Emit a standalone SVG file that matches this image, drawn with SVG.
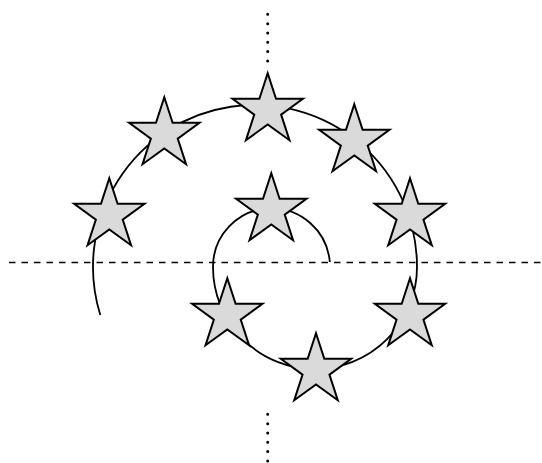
<svg xmlns="http://www.w3.org/2000/svg" xmlns:xlink="http://www.w3.org/1999/xlink" width="542" height="463" viewBox="0 0 542 463">
<style>
.axis-dash{fill:none;stroke:#000;stroke-width:1.6;stroke-dasharray:6.5 6}
.axis-dot{fill:none;stroke:#000;stroke-width:3;stroke-linecap:round;stroke-dasharray:0 9.33}
.spiral{fill:none;stroke:#000;stroke-width:1.8}
.star{fill:#dadada;stroke:#000;stroke-width:2;stroke-linejoin:miter}
</style>
<defs>
<polygon id="star" class="star" points="0,-37 8.31,-11.43 35.19,-11.43 13.44,4.37 21.75,29.93 0,14.13 -21.75,29.93 -13.44,4.37 -35.19,-11.43 -8.31,-11.43"/>
</defs>
<g id="axes">
<line class="axis-dash" x1="9" y1="262.5" x2="542" y2="262.5"/>
<line class="axis-dot" x1="267.7" y1="14.3" x2="267.7" y2="62"/>
<line class="axis-dot" x1="267.7" y1="414.3" x2="267.7" y2="463"/>
</g>
<g id="connectors">
<path class="spiral" d="M 100.3 315 A 162 162 0 1 1 417 267 A 102 102 0 0 1 213 267 A 58.5 58.5 0 0 1 329.8 262"/>
</g>
<g id="star1"><use xlink:href="#star" transform="translate(109.3,215.3)"/></g>
<g id="star2"><use xlink:href="#star" transform="translate(164.3,134.3)"/></g>
<g id="star3"><use xlink:href="#star" transform="translate(267.7,110.3)"/></g>
<g id="star4"><use xlink:href="#star" transform="translate(354.3,141.3)"/></g>
<g id="star5"><use xlink:href="#star" transform="translate(410,215.3)"/></g>
<g id="star6"><use xlink:href="#star" transform="translate(410,315.3)"/></g>
<g id="star7"><use xlink:href="#star" transform="translate(316,370.3)"/></g>
<g id="star8"><use xlink:href="#star" transform="translate(227.3,315.3)"/></g>
<g id="star9"><use xlink:href="#star" transform="translate(271.3,210.3)"/></g>
</svg>
